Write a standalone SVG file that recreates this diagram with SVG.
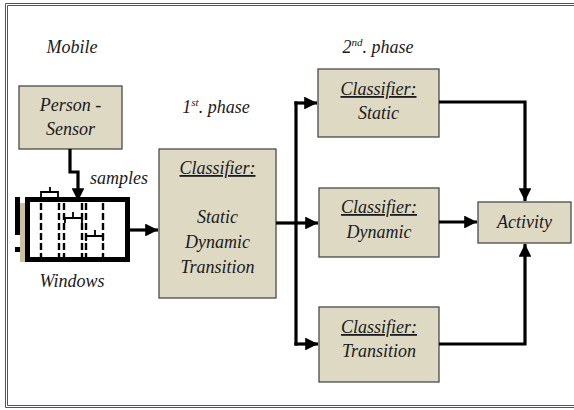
<svg xmlns="http://www.w3.org/2000/svg" width="574" height="410" viewBox="0 0 574 410">
  <style>
    .box { fill: #ddd9c3; stroke: #4a4a4a; stroke-width: 1.3; }
    .u { text-decoration: underline; }
    .wire { fill: none; stroke: #000; stroke-width: 3.2; }
    .dash { fill: none; stroke: #000; stroke-width: 2.4; stroke-dasharray: 7 3; }
    .brk { fill: none; stroke: #000; stroke-width: 1.8; }
  </style>
  <defs>
    <marker id="arr" viewBox="0 0 10 10" refX="10" refY="5" markerWidth="4" markerHeight="4" markerUnits="strokeWidth" orient="auto">
      <path d="M0,0 L10,5 L0,10 z" fill="#000"/>
    </marker>
  </defs>

  <rect width="574" height="410" fill="#fff"/>

  <!-- frame: double rule, open on the right -->
  <g id="frame" fill="none" stroke="#555" stroke-width="1">
    <path d="M580,3.5 H5.5 V407.5 H580"/>
    <path d="M580,5.5 H7.5 V405.5 H580"/>
  </g>

  <!-- sliding windows -->
  <g id="windows">
    <rect x="20" y="203" width="7" height="59" fill="#c9c29c"/>
    <rect x="15" y="197" width="5" height="38" fill="#000"/>
    <rect x="15" y="247" width="5" height="5" fill="#000"/>
    <rect x="27.5" y="199.5" width="100" height="60" fill="#fff" stroke="#000" stroke-width="5"/>
    <path class="dash" d="M41,203 V258 M59,203 V258 M64,203 V258 M82,203 V258 M86,203 V258 M103,203 V258"/>
    <path class="brk" d="M41,197 V192 H58 V197 M50,192 V187"/>
    <path class="brk" d="M65,223 V218 H82 V223 M73,218 V212"/>
    <path class="brk" d="M86,241 V236 H103 V241 M95,236 V230"/>
  </g>

  <g font-family="Liberation Serif, Times New Roman, serif" font-style="italic" font-size="18" fill="#1a1a22" text-anchor="middle">
    <!-- free labels -->
    <g id="labels">
      <text x="72" y="53">Mobile</text>
      <text x="216" y="113">1<tspan font-size="11" dy="-7">st</tspan><tspan dy="7">. phase</tspan></text>
      <text x="378" y="53">2<tspan font-size="11" dy="-7">nd</tspan><tspan dy="7">. phase</tspan></text>
      <text x="119" y="184">samples</text>
      <text x="72" y="287">Windows</text>
    </g>

    <g id="person-sensor">
      <rect class="box" x="19" y="86" width="103" height="63"/>
      <text x="70.5" y="111">Person -</text>
      <text x="70.5" y="135">Sensor</text>
    </g>

    <g id="classifier-phase1">
      <rect class="box" x="159" y="149" width="117" height="149"/>
      <text class="u" x="217.5" y="174">Classifier:</text>
      <text x="217.5" y="223">Static</text>
      <text x="217.5" y="248">Dynamic</text>
      <text x="217.5" y="273">Transition</text>
    </g>

    <g id="classifier-static">
      <rect class="box" x="318" y="69" width="121" height="68"/>
      <text class="u" x="378.5" y="95">Classifier:</text>
      <text x="378.5" y="119">Static</text>
    </g>

    <g id="classifier-dynamic">
      <rect class="box" x="319" y="188" width="120" height="69"/>
      <text class="u" x="379" y="213">Classifier:</text>
      <text x="379" y="238">Dynamic</text>
    </g>

    <g id="classifier-transition">
      <rect class="box" x="319" y="307" width="120" height="75"/>
      <text class="u" x="379" y="333">Classifier:</text>
      <text x="379" y="357">Transition</text>
    </g>

    <g id="activity">
      <rect class="box" x="478" y="202" width="93" height="41"/>
      <text x="524.5" y="228">Activity</text>
    </g>
  </g>

  <!-- connectors -->
  <g id="connectors">
    <path class="wire" d="M70,149 V172 H78 V201" marker-end="url(#arr)"/>
    <path class="wire" d="M130,230 H158" marker-end="url(#arr)"/>
    <path class="wire" d="M276,223 H296"/>
    <path class="wire" d="M296,101.4 V345.6"/>
    <path class="wire" d="M294.4,103 H317" marker-end="url(#arr)"/>
    <path class="wire" d="M296,223 H318" marker-end="url(#arr)"/>
    <path class="wire" d="M294.4,344 H318" marker-end="url(#arr)"/>
    <path class="wire" d="M439,102 H525 V201" marker-end="url(#arr)"/>
    <path class="wire" d="M439,222 H477" marker-end="url(#arr)"/>
    <path class="wire" d="M439,344 H525 V244" marker-end="url(#arr)"/>
  </g>
</svg>
